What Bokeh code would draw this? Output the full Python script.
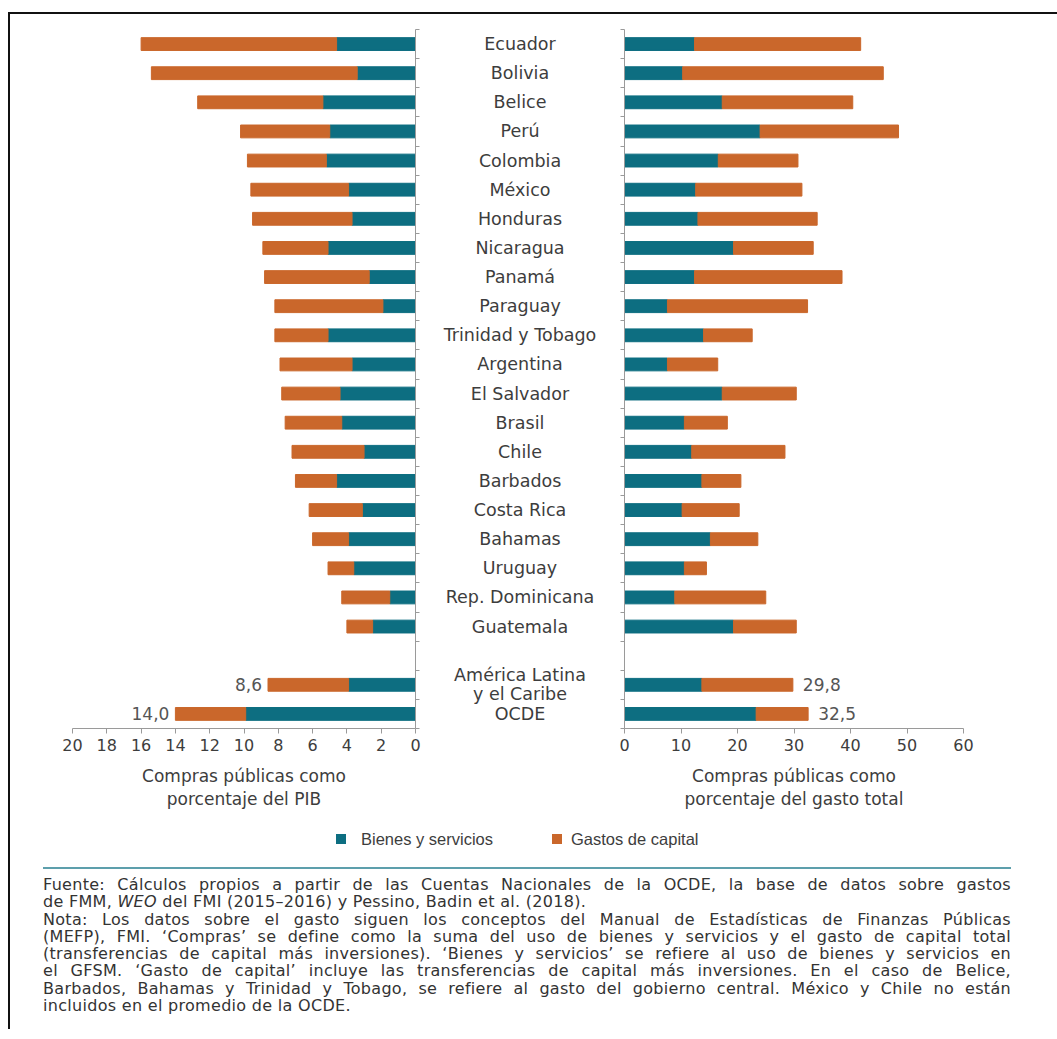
from bokeh.plotting import figure
from bokeh.models import Range1d, FixedTicker, ColumnDataSource, Div
from bokeh.layouts import row, column
from bokeh.embed import file_html
from bokeh.resources import INLINE
from bokeh.core.properties import value

# ---------------- data ----------------
countries = ["Ecuador", "Bolivia", "Belice", "Perú", "Colombia", "México", "Honduras",
             "Nicaragua", "Panamá", "Paraguay", "Trinidad y Tobago", "Argentina",
             "El Salvador", "Brasil", "Chile", "Barbados", "Costa Rica", "Bahamas",
             "Uruguay", "Rep. Dominicana", "Guatemala",
             "América Latina\ny el Caribe", "OCDE"]

# Compras públicas como porcentaje del PIB
pib_bienes = [4.6, 3.4, 5.4, 5.0, 5.2, 3.9, 3.7, 5.1, 2.7, 1.9, 5.1, 3.7, 4.4, 4.3,
              3.0, 4.6, 3.1, 3.9, 3.6, 1.5, 2.5, 3.9, 9.9]
pib_capital = [11.4, 12.0, 7.3, 5.2, 4.6, 5.7, 5.8, 3.8, 6.1, 6.3, 3.1, 4.2, 3.4, 3.3,
               4.2, 2.4, 3.1, 2.1, 1.5, 2.8, 1.5, 4.7, 4.1]

# Compras públicas como porcentaje del gasto total
gasto_bienes = [12.4, 10.3, 17.3, 24.0, 16.6, 12.6, 13.0, 19.3, 12.4, 7.6, 14.0, 7.6,
                17.3, 10.6, 11.9, 13.7, 10.2, 15.2, 10.6, 8.9, 19.3, 13.7, 23.3]
gasto_capital = [29.4, 35.5, 23.1, 24.5, 14.1, 18.8, 21.1, 14.1, 26.1, 24.8, 8.6, 8.9,
                 13.1, 7.6, 16.5, 6.9, 10.1, 8.4, 3.9, 16.1, 11.1, 16.1, 9.2]

labelled = ["América Latina\ny el Caribe", "OCDE"]

pib_ticks = [0, 2, 4, 6, 8, 10, 12, 14, 16, 18, 20]
gasto_ticks = [0, 10, 20, 30, 40, 50, 60]

series_names = ["Bienes y servicios", "Gastos de capital"]
pib_title = "Compras públicas como\nporcentaje del PIB"
gasto_title = "Compras públicas como\nporcentaje del gasto total"

note_lines = [
    "Fuente: Cálculos propios a partir de las Cuentas Nacionales de la OCDE, la base de datos sobre gastos",
    "de FMM, <i>WEO</i> del FMI (2015–2016) y Pessino, Badin et al. (2018).",
    "Nota: Los datos sobre el gasto siguen los conceptos del Manual de Estadísticas de Finanzas Públicas",
    "(MEFP), FMI. ‘Compras’ se define como la suma del uso de bienes y servicios y el gasto de capital total",
    "(transferencias de capital más inversiones). ‘Bienes y servicios’ se refiere al uso de bienes y servicios en",
    "el GFSM. ‘Gasto de capital’ incluye las transferencias de capital más inversiones. En el caso de Belice,",
    "Barbados, Bahamas y Trinidad y Tobago, se refiere al gasto del gobierno central. México y Chile no están",
    "incluidos en el promedio de la OCDE.",
]
justified = [True, False, True, True, True, True, True, False]

# ---------------- style ----------------
TEAL = "#0d6e81"
ORANGE = "#ca672b"
AXIS = "#9a9a9a"
TXT = "#3d3d3d"
FONT = "DejaVu Sans"
BAR_H = 0.44

rows = [i if i < 21 else i + 1 for i in range(len(countries))]
pib_total = [round(a + b, 1) for a, b in zip(pib_bienes, pib_capital)]
gasto_total = [round(a + b, 1) for a, b in zip(gasto_bienes, gasto_capital)]

src = ColumnDataSource(dict(y=rows, name=countries,
                            pb=pib_bienes, pt=pib_total,
                            gb=gasto_bienes, gt=gasto_total))

idx = [countries.index(c) for c in labelled]
lab_pib = ColumnDataSource(dict(y=[rows[i] for i in idx], x=[pib_total[i] for i in idx],
                                t=[f"{pib_total[i]:.1f}".replace(".", ",") for i in idx]))
lab_gasto = ColumnDataSource(dict(y=[rows[i] for i in idx], x=[gasto_total[i] for i in idx],
                                  t=[f"{gasto_total[i]:.1f}".replace(".", ",") for i in idx]))

yr = Range1d(len(rows) + 0.5, -0.5)
row_edges = [k - 0.5 for k in range(len(rows) + 2)]

FH = 699
TOP = 15
BOT = 91


def style(p):
    p.grid.visible = False
    p.outline_line_color = None
    p.background_fill_color = "white"
    p.border_fill_color = "white"


def style_x(ax, ticks, title):
    ax.ticker = FixedTicker(ticks=ticks)
    ax.axis_line_color = AXIS
    ax.major_tick_line_color = AXIS
    ax.major_tick_out = 5
    ax.major_tick_in = 0
    ax.minor_tick_line_color = None
    ax.major_label_text_font = FONT
    ax.major_label_text_font_size = "16px"
    ax.major_label_text_color = TXT
    ax.major_label_standoff = 5
    ax.axis_label = title
    ax.axis_label_text_font = FONT
    ax.axis_label_text_font_size = "17px"
    ax.axis_label_text_font_style = "normal"
    ax.axis_label_text_color = TXT
    ax.axis_label_standoff = 12
    ax.axis_label_text_line_height = 1.15


def style_y(ax):
    # row separators as ticks only; no tick labels are drawn
    ax.ticker = FixedTicker(ticks=row_edges)
    ax.axis_line_color = AXIS
    ax.major_tick_line_color = AXIS
    ax.major_tick_out = 4
    ax.major_tick_in = 0
    ax.minor_tick_line_color = None
    ax.major_label_overrides = {t: "" for t in row_edges}
    ax.major_label_text_font_size = "1px"
    ax.major_label_text_color = None
    ax.major_label_standoff = 0


# left panel: % of GDP (reversed axis)
pl = figure(frame_width=343, frame_height=FH, x_range=Range1d(20, 0), y_range=yr,
            y_axis_location="right", min_border_left=62, min_border_right=15,
            min_border_top=TOP, min_border_bottom=BOT,
            toolbar_location=None, output_backend="svg")
style(pl)
pl.hbar(y="y", left=0, right="pb", height=BAR_H, color=TEAL, source=src)
pl.hbar(y="y", left="pb", right="pt", height=BAR_H, color=ORANGE, source=src)
pl.text(x="x", y="y", text="t", source=lab_pib, text_align="right", text_baseline="middle",
        x_offset=-6, text_font=value(FONT), text_font_size="17px", text_color="#555555")
style_x(pl.xaxis[0], pib_ticks, pib_title)
style_y(pl.yaxis[0])

# centre: country names
pc = figure(frame_width=179, frame_height=FH, x_range=Range1d(0, 1), y_range=yr,
            x_axis_location=None, y_axis_location=None, min_border_left=0,
            min_border_right=0, min_border_top=TOP, min_border_bottom=BOT,
            toolbar_location=None, output_backend="svg")
style(pc)
pc.text(x=0.5, y="y", text="name", source=src, text_align="center", text_baseline="middle",
        text_font=value(FONT), text_font_size="17.5px", text_color=TXT, text_line_height=0.95)

# right panel: % of total spending
pr = figure(frame_width=339, frame_height=FH, x_range=Range1d(0, 60), y_range=yr,
            y_axis_location="left", min_border_left=15, min_border_right=75,
            min_border_top=TOP, min_border_bottom=BOT,
            toolbar_location=None, output_backend="svg")
style(pr)
pr.hbar(y="y", left=0, right="gb", height=BAR_H, color=TEAL, source=src)
pr.hbar(y="y", left="gb", right="gt", height=BAR_H, color=ORANGE, source=src)
pr.text(x="x", y="y", text="t", source=lab_gasto, text_align="left", text_baseline="middle",
        x_offset=10, text_font=value(FONT), text_font_size="17px", text_color="#555555")
style_x(pr.xaxis[0], gasto_ticks, gasto_title)
style_y(pr.yaxis[0])

# legend + notes
note_html = "".join(
    f'<div style="text-align:{"justify" if j else "left"};'
    f'text-align-last:{"justify" if j else "left"};">{t}</div>'
    for t, j in zip(note_lines, justified))

html = f"""
<div style="position:relative;width:1040px;height:200px;font-family:'DejaVu Sans';color:#333;">
  <div style="position:absolute;left:321px;top:10px;width:10px;height:10px;background:{TEAL};"></div>
  <div style="position:absolute;left:346px;top:5px;font-family:'Liberation Sans';font-size:16.5px;line-height:20px;color:{TXT};white-space:nowrap;">{series_names[0]}</div>
  <div style="position:absolute;left:537px;top:10px;width:10px;height:10px;background:{ORANGE};"></div>
  <div style="position:absolute;left:556px;top:5px;font-family:'Liberation Sans';font-size:16.5px;line-height:20px;color:{TXT};white-space:nowrap;">{series_names[1]}</div>
  <div style="position:absolute;left:28px;top:43px;width:968px;height:0;border-top:2px solid #5d9fac;"></div>
  <div style="position:absolute;left:28px;top:52px;width:968px;font-size:16px;letter-spacing:0.3px;line-height:17.3px;color:#333;">{note_html}</div>
</div>
"""
notes = Div(text=html, width=1045, height=200)

layout = column(row(pl, pc, pr), notes,
                styles={"border-top": "2px solid #111", "border-left": "2px solid #111",
                        "margin": "12px 0px 0px 8px"})

open("out.html", "w").write(file_html(layout, INLINE))
